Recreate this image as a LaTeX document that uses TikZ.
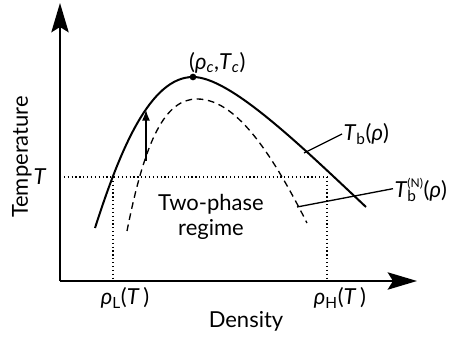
\documentclass[tikz,border=0pt]{standalone}
\usepackage{fontspec}
\setmainfont{Lato}
\usetikzlibrary{arrows.meta,positioning}
\newcommand{\rh}{\textit{ρ}}
\newcommand{\tT}{\textit{T}}
\begin{document}
\begin{tikzpicture}[x=0.75pt,y=-0.75pt]
\tikzstyle{lbl} = [font=\fontsize{16.5}{19}\selectfont, inner sep=1pt]
\tikzstyle{axis} = [line width=1.5pt, -{Stealth[length=22pt,width=13pt,inset=4pt]}]
\tikzstyle{guide} = [dotted, line width=0.9pt]
\tikzstyle{vertex} = [shape = circle,fill = black,minimum size = 5pt,inner sep=0pt]

\useasboundingbox (0,0) rectangle (449,338);

% axes
\coordinate (O) at (60,281);
\coordinate (ytop) at (60,3);
\coordinate (xend) at (417,281);
\draw[axis] (O) -- (ytop);
\draw[axis] (O) -- (xend);

\node[lbl, rotate=90] (ylab) at (22,157) {Temperature};
\node[lbl] (xlab) at (246,321) {Density};

% coexistence curve and spinodal
\draw[line width=1.5pt] (95,228) .. controls (120,150) and (150,77) .. (193,77)
  .. controls (230,77) and (300,145) .. (366,207);
\draw[line width=1pt, dash pattern=on 5pt off 3.5pt] (127,231) .. controls (145,140) and (165,99) .. (197,99)
  .. controls (235,99) and (270,150) .. (307,223);

\node[vertex] (crit) at (193,77) {};
\node[lbl, above right=0pt and -6pt of crit] (critlab) {(\rh\textsubscript{\textit{c}},\tT\textsubscript{\textit{c}})};

% temperature T and the two densities
\node[lbl] (Tlab) at (40,177) {\tT};
\coordinate (cL) at (113,177);
\coordinate (cH) at (327,177);
\draw[guide] (O |- Tlab) -- (cH);
\draw[guide] (cL) -- (cL |- O);
\draw[guide] (cH) -- (cH |- O);
\node[lbl] (rhoL) at (125,298) {\rh\textsubscript{L}(\tT\,)};
\node[lbl] (rhoH) at (340,298) {\rh\textsubscript{H}(\tT\,)};

\node[lbl, align=center] (two) at (211,217) {Two-phase\\regime};

% quench arrow
\coordinate (qa) at (146,161);
\coordinate (qb) at (146,110);
\draw[line width=1pt, -{Latex[length=8pt,width=6pt]}] (qa) -- (qb);

% curve labels
\node[lbl, anchor=west] (Tb) at (342,134) {\tT\textsubscript{b}(\rh)};
\coordinate (tbfoot) at (304,153);
\draw[line width=1pt] (tbfoot) -- (Tb.west);
\node[lbl, anchor=west] (TbN) at (393,190) {\tT\rlap{\textsubscript{b}}\raisebox{1pt}{\textsuperscript{\small(N)}}(\rh)};
\coordinate (tbnfoot) at (297,207);
\draw[line width=1pt] (tbnfoot) -- ([yshift=1pt]TbN.west);
\end{tikzpicture}
\end{document}
